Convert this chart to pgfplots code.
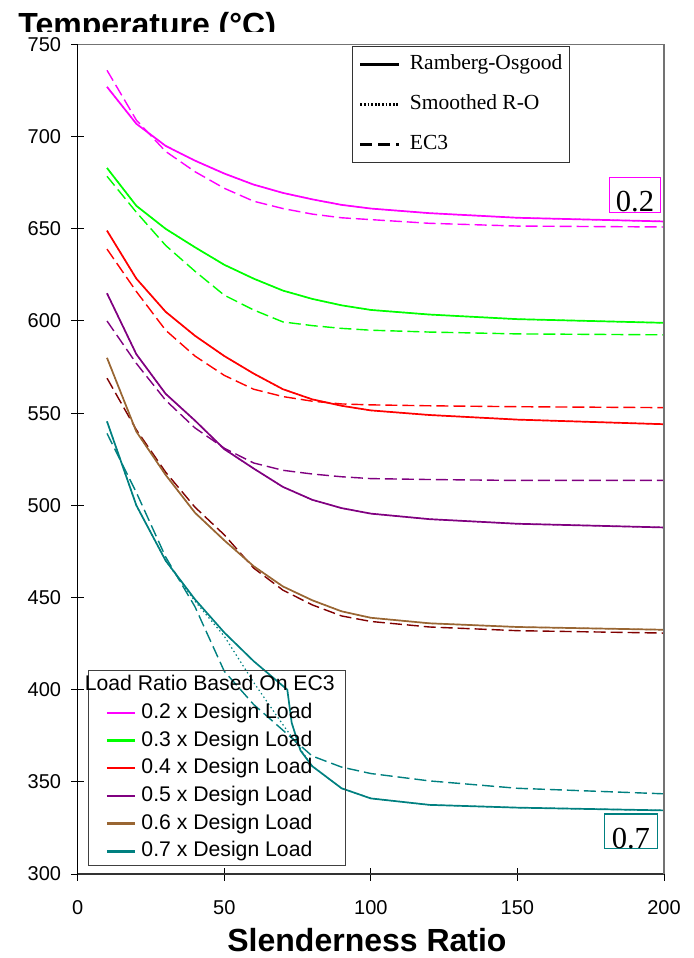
\documentclass[border=0pt]{standalone}
\usepackage{pgfplots}
\pgfplotsset{compat=1.18}
\usepackage{fontspec}
\setmainfont{Liberation Sans}
\newfontfamily\seriffont{Liberation Serif}

\definecolor{cmag}{RGB}{255,0,255}
\definecolor{cgreen}{RGB}{0,255,0}
\definecolor{cred}{RGB}{255,0,0}
\definecolor{cpurple}{RGB}{128,0,128}
\definecolor{cbrown}{RGB}{153,102,51}
\definecolor{cmaroon}{RGB}{128,0,0}
\definecolor{cteal}{RGB}{0,128,128}

\pgfplotsset{
  ro/.style={line width=0.85pt},
  sro/.style={line width=0.6pt, dash pattern=on 0.7pt off 1.4pt},
  ec/.style={line width=0.7pt, dash pattern=on 6pt off 2.5pt},
}

\begin{document}
\begin{tikzpicture}
\path[use as bounding box] (-38.85pt,-42pt) rectangle (307.65pt,437pt);
% axis caption, its lower edge cut off
\begin{scope}
\clip (-36pt,421.3pt) rectangle (120pt,437pt);
\node[anchor=base west, inner sep=0pt, text depth=0pt, font=\fontsize{16}{19}\selectfont\bfseries] at (-29.85pt,419pt) {Temperature (°C)};
\end{scope}

\begin{axis}[
  at={(0pt,0pt)}, anchor=south west, scale only axis,
  width=293.15pt, height=414.75pt,
  xmin=0, xmax=200, ymin=300, ymax=750,
  axis x line*=bottom, axis y line*=left,
  x axis line style={black!80, line width=1pt},
  y axis line style={black, line width=0.75pt},
  xtick={0,50,100,150,200}, ytick={300,350,...,750},
  tick align=center, major tick length=6.5pt,
  tick style={black, line width=0.5pt},
  /pgf/number format/assume math mode=true,
  tick label style={font=\fontsize{10}{12}\selectfont},
  xticklabel style={inner sep=0pt, anchor=north, text height=7.16pt, text depth=0pt, yshift=-9.5pt},
  yticklabel style={inner sep=0pt, anchor=east, xshift=-4.85pt},
  xlabel={Slenderness Ratio},
  xlabel style={at={(rel axis cs:0.4934,0)}, anchor=base, inner sep=0pt, yshift=-38.5pt,
                font=\fontsize{16}{19}\selectfont\bfseries},
  legend style={
    at={(rel axis cs:0.0172,0.2459)}, anchor=north west,
    draw=black!75, line width=0.6pt, fill=none,
    font=\fontsize{10.6}{12}\selectfont,
    inner xsep=8.7pt, inner ysep=2.4pt,
    row sep=4.15pt, column sep=2.5pt,
    nodes={inner sep=0pt, text height=7.6pt, text depth=2.1pt},
  },
  legend cell align=left,
  legend image code/.code={\draw[#1, line width=1.2pt, solid] (0pt,0pt) -- (14.15pt,0pt);},
]

% 0.2 x design load
\addplot[cmag, sro, forget plot] coordinates {(10,727) (20,707) (30,695) (40,687) (50,680) (60,674) (70,669.5) (80,666) (90,663) (100,661) (120,658.5) (150,656) (200,654)};
\addplot[cmag, ec, forget plot] coordinates {(10,736) (20,709) (30,692) (40,681) (50,672) (60,665) (70,661) (80,658) (90,656) (100,655) (120,653) (150,651.5) (200,651)};
\addplot[cmag, ro, forget plot] coordinates {(10,727) (20,707) (30,695) (40,687) (50,680) (60,674) (70,669.5) (80,666) (90,663) (100,661) (120,658.5) (150,656) (200,654)};

% 0.3 x design load
\addplot[cgreen, sro, forget plot] coordinates {(10,683) (20,662.5) (30,650) (40,640) (50,630.5) (60,623) (70,616.5) (80,612) (90,608.5) (100,606) (120,603.5) (150,601) (200,599)};
\addplot[cgreen, ec, forget plot] coordinates {(10,678.5) (20,659) (30,641) (40,627) (50,614) (60,606) (70,599.5) (80,597.5) (90,596) (100,595) (120,594) (150,593) (200,592.5)};
\addplot[cgreen, ro, forget plot] coordinates {(10,683) (20,662.5) (30,650) (40,640) (50,630.5) (60,623) (70,616.5) (80,612) (90,608.5) (100,606) (120,603.5) (150,601) (200,599)};

% 0.4 x design load
\addplot[cred, sro, forget plot] coordinates {(10,649) (20,623) (30,605) (40,592) (50,581) (60,571.5) (70,563) (80,557.5) (90,554) (100,551.5) (120,549) (150,546.5) (200,544)};
\addplot[cred, ec, forget plot] coordinates {(10,639) (20,616) (30,595) (40,581) (50,570.5) (60,563) (70,559) (80,556.5) (90,555) (100,554.5) (120,554) (150,553.5) (200,553)};
\addplot[cred, ro, forget plot] coordinates {(10,649) (20,623) (30,605) (40,592) (50,581) (60,571.5) (70,563) (80,557.5) (90,554) (100,551.5) (120,549) (150,546.5) (200,544)};

% 0.5 x design load
\addplot[cpurple, sro, forget plot] coordinates {(10,615) (20,582) (30,560.5) (40,546) (50,530.5) (60,520) (70,510) (80,503) (90,498.5) (100,495.5) (120,492.5) (150,490) (200,488)};
\addplot[cpurple, ec, forget plot] coordinates {(10,600) (20,577) (30,557) (40,542) (50,531) (60,523) (70,519) (80,517) (90,515.5) (100,514.5) (120,514) (150,513.5) (200,513.5)};
\addplot[cpurple, ro, forget plot] coordinates {(10,615) (20,582) (30,560.5) (40,546) (50,530.5) (60,520) (70,510) (80,503) (90,498.5) (100,495.5) (120,492.5) (150,490) (200,488)};

% 0.6 x design load
\addplot[cbrown, sro, forget plot] coordinates {(10,580) (20,540) (30,516.5) (40,496) (50,481) (60,467) (70,456) (80,448.5) (90,442.5) (100,439) (120,436) (150,434) (200,432.5)};
\addplot[cmaroon, ec, forget plot] coordinates {(10,569) (20,541) (30,518) (40,499) (50,484) (60,466) (70,454) (80,446) (90,440) (100,437) (120,434) (150,432) (200,430.7)};
\addplot[cbrown, ro, forget plot] coordinates {(10,580) (20,540) (30,516.5) (40,496) (50,481) (60,467) (70,456) (80,448.5) (90,442.5) (100,439) (120,436) (150,434) (200,432.5)};

% 0.7 x design load
\addplot[cteal, sro, forget plot] coordinates {(10,545.5) (20,500) (30,470) (40,448) (50,429) (60,404) (70,381) (75,370) (80,358.5) (90,346.5) (100,341) (120,337.5) (150,336) (200,334.5)};
\addplot[cteal, ec, forget plot] coordinates {(10,539) (20,507) (30,472) (40,445) (50,410) (60,392) (70,378) (80,364) (90,358) (100,354.5) (120,350.5) (150,346.5) (200,343.5)};
\addplot[cteal, ro, forget plot] coordinates {(10,545.5) (20,500) (30,470) (40,449) (50,431) (60,415.5) (70,402) (71.5,400) (73,382) (76,367) (80,358.5) (90,346.5) (100,341) (120,337.5) (150,336) (200,334.5)};

% load-ratio tags at the ends of the outer curves
\node[draw=cmag, line width=0.7pt, inner xsep=3.25pt, inner ysep=0pt, text height=17pt, text depth=0.3pt,
      font=\seriffont\fontsize{15.3}{16}\selectfont] at (axis cs:190.1,668.4) {0.2};
\node[draw=cteal, line width=0.7pt, inner xsep=3.65pt, inner ysep=0pt, text height=17pt, text depth=0.2pt,
      font=\seriffont\fontsize{15.3}{16}\selectfont] at (axis cs:188.7,323.2) {0.7};

\addlegendimage{empty legend}
\addlegendentry{\hspace*{-28.3pt}Load Ratio Based On EC3\hspace*{-3.35pt}}
\addlegendimage{cmag}\addlegendentry{0.2 x Design Load}
\addlegendimage{cgreen}\addlegendentry{0.3 x Design Load}
\addlegendimage{cred}\addlegendentry{0.4 x Design Load}
\addlegendimage{cpurple}\addlegendentry{0.5 x Design Load}
\addlegendimage{cbrown}\addlegendentry{0.6 x Design Load}
\addlegendimage{cteal}\addlegendentry{0.7 x Design Load}
\end{axis}

% upper and right frame, and the line-style key
\begin{axis}[
  at={(0pt,0pt)}, anchor=south west, scale only axis,
  width=293.15pt, height=414.75pt,
  xmin=0, xmax=200, ymin=300, ymax=750,
  axis x line*=top, axis y line*=right,
  xtick=\empty, ytick=\empty,
  axis line style={black!55, line width=0.6pt},
  legend style={
    at={(rel axis cs:0.4675,0.9982)}, anchor=north west,
    draw=black!80, line width=0.6pt, fill=white,
    font=\seriffont\fontsize{10.75}{12}\selectfont,
    inner xsep=3.5pt, inner ysep=4pt,
    row sep=10pt, column sep=5pt,
    nodes={inner sep=0pt, text height=7.5pt, text depth=2.5pt},
  },
  legend cell align=left,
  legend image code/.code={\draw[black, line width=1.1pt, #1] (0pt,0pt) -- (19.15pt,0pt);},
]
\addlegendimage{solid}\addlegendentry{Ramberg-Osgood}
\addlegendimage{dash pattern=on 0.9pt off 0.9pt}\addlegendentry{Smoothed R-O}
\addlegendimage{dash pattern=on 6pt off 3pt}\addlegendentry{EC3}
\end{axis}
\end{tikzpicture}
\end{document}
